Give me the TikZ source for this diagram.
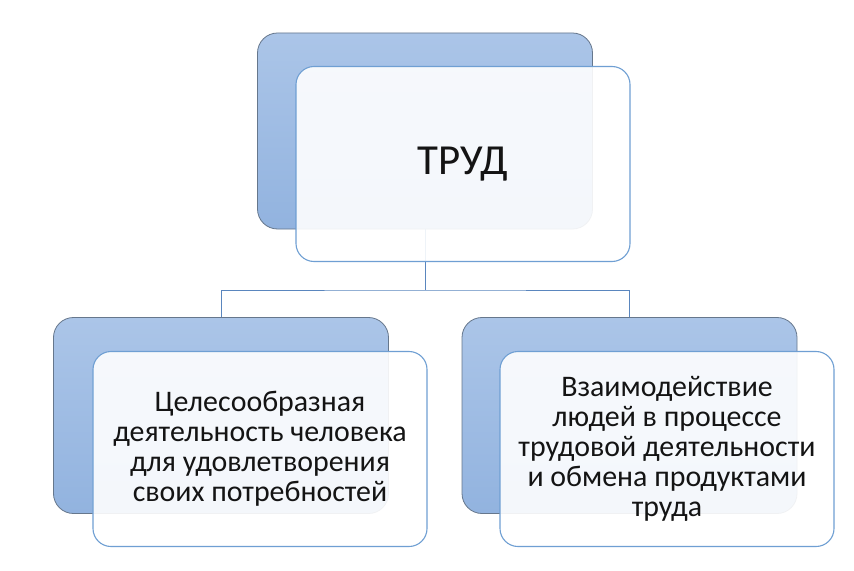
\documentclass[tikz,border=0pt]{standalone}
\usepackage{fontspec}
\setmainfont{Carlito}
\definecolor{backtop}{HTML}{ABC5E8}
\definecolor{backbot}{HTML}{92B3DF}
\definecolor{backline}{HTML}{66778C}
\definecolor{frontline}{HTML}{6F9FD3}
\definecolor{linkcol}{HTML}{5A86BE}
\definecolor{txt}{HTML}{141414}
\begin{document}
\begin{tikzpicture}[x=1bp,y=-1bp,
  backbox/.style={draw=backline, line width=0.8bp, rounded corners=20bp,
    top color=backtop, bottom color=backbot, minimum width=335bp, minimum height=196bp,
    inner sep=0pt, outer sep=0pt},
  frontbox/.style={draw=frontline, line width=1.1bp, rounded corners=18bp,
    fill=white, fill opacity=0.9, text opacity=1, text=txt,
    minimum width=334bp, minimum height=195bp, inner sep=0pt, outer sep=0pt,
    align=center},
  smalltext/.style={font=\fontsize{30}{30}\selectfont},
  link/.style={draw=linkcol, line width=1bp}]
\useasboundingbox (0,0) rectangle (854,571);
\fill[white] (0,0) rectangle (854,571);
% back boxes
\node[backbox] (topback) at (425,131) {};
\node[backbox] (lback) at (221,415.5) {};
\node[backbox] (rback) at (629.5,415.5) {};
% connectors
\coordinate (hub) at (425,290);
\draw[link] (topback.south) -- (hub);
\draw[link] (lback.north) |- (hub) -| (rback.north);
% front boxes
\node[frontbox, font=\fontsize{43}{48}\selectfont] (topfront) at (463,164) {ТРУД};
\node[frontbox, smalltext] (lfront) at (260,449)
  {Целесообразная\\деятельность человека\\для удовлетворения\\своих потребностей};
\node[frontbox, smalltext] (rfront) at (667,449)
  {Взаимодействие\\людей в процессе\\трудовой деятельности\\и обмена продуктами\\труда};
\end{tikzpicture}
\end{document}
